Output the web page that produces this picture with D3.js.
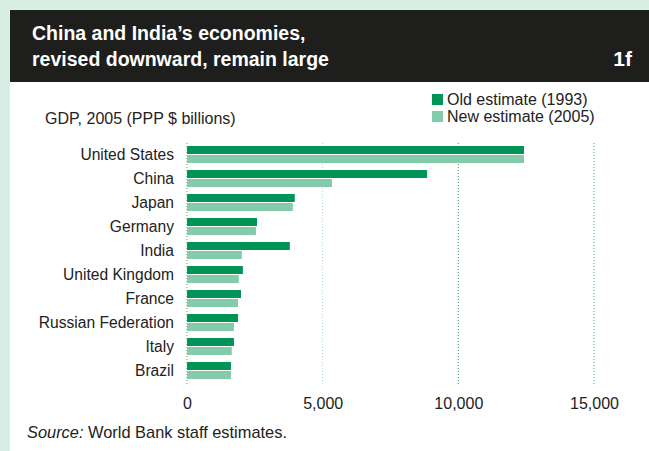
<!DOCTYPE html>
<html>
<head>
<meta charset="utf-8">
<script src="https://cdn.jsdelivr.net/npm/d3@7"></script>
<style>
  html, body { margin: 0; padding: 0; background: #d9eee5; }
  svg { display: block; }
  text { font-family: "Liberation Sans", Arial, sans-serif; }
</style>
</head>
<body>
<svg id="chart" width="649" height="451"></svg>
<script>
// GDP, 2005 (PPP $ billions)
const countries = ["United States", "China", "Japan", "Germany", "India",
  "United Kingdom", "France", "Russian Federation", "Italy", "Brazil"];
const oldEstimate = [12420, 8850, 3970, 2580, 3790, 2060, 1990, 1880, 1730, 1620];
const newEstimate = [12420, 5340, 3900, 2540, 2020, 1910, 1880, 1730, 1650, 1620];
const seriesNames = ["Old estimate (1993)", "New estimate (2005)"];
const xTicks = [0, 5000, 10000, 15000];

const colors = ["#009456", "#83cbaa"];
const fs = 16;

const svg = d3.select("#chart");

// card background and header
svg.append("rect").attr("x", 10).attr("y", 10).attr("width", 639).attr("height", 441).attr("fill", "#ffffff");
svg.append("rect").attr("x", 10).attr("y", 10).attr("width", 639).attr("height", 72).attr("fill", "#1e1e1c");

const titleFont = '"Liberation Sans Narrow", "Arial Narrow", sans-serif';
svg.append("text").attr("x", 32).attr("y", 40)
  .attr("fill", "#fff").attr("font-weight", "bold").attr("font-size", 19.5)
  .style("font-family", titleFont)
  .text("China and India’s economies,");
svg.append("text").attr("x", 32).attr("y", 66)
  .attr("fill", "#fff").attr("font-weight", "bold").attr("font-size", 19.5)
  .style("font-family", titleFont)
  .text("revised downward, remain large");
svg.append("text").attr("x", 632).attr("y", 66).attr("text-anchor", "end")
  .attr("fill", "#fff").attr("font-weight", "bold").attr("font-size", 21)
  .style("font-family", titleFont)
  .text("1f");

// axis title
svg.append("text").attr("x", 45).attr("y", 124)
  .attr("font-size", fs).attr("fill", "#222")
  .text("GDP, 2005 (PPP $ billions)");

// legend
const legend = svg.append("g");
seriesNames.forEach((name, i) => {
  const g = legend.append("g").attr("transform", `translate(432, ${94 + i * 17})`);
  g.append("rect").attr("width", 11).attr("height", 11).attr("fill", colors[i]);
  g.append("text").attr("x", 15).attr("y", 11).attr("font-size", fs).attr("fill", "#222").text(name);
});

// scales
const x = d3.scaleLinear().domain([0, 15000]).range([187, 594]);
const y = d3.scaleBand().domain(countries).range([142.5, 382.5])
  .paddingInner(7 / 24).paddingOuter(7 / 48);
const ySub = d3.scaleBand().domain([0, 1]).range([0, y.bandwidth()]).paddingInner(1 / 9);

// dotted gridlines
svg.append("g").selectAll("line").data(xTicks).join("line")
  .attr("x1", d => x(d)).attr("x2", d => x(d))
  .attr("y1", 143).attr("y2", 384)
  .attr("stroke", (d, i) => i === 1 ? "#a9d9c2" : "#3aa877")
  .attr("stroke-width", 1)
  .attr("stroke-dasharray", "1,2");

// bars
const rows = svg.append("g").selectAll("g").data(countries).join("g")
  .attr("transform", d => `translate(0, ${y(d)})`);
rows.each(function (c, i) {
  const vals = [oldEstimate[i], newEstimate[i]];
  d3.select(this).selectAll("rect").data(vals).join("rect")
    .attr("x", x(0))
    .attr("y", (v, j) => ySub(j))
    .attr("width", v => x(v) - x(0))
    .attr("height", ySub.bandwidth())
    .attr("fill", (v, j) => colors[j]);
});

// category labels
const yAxis = d3.axisLeft(y).tickSize(0).tickPadding(0);
const yg = svg.append("g").attr("transform", "translate(174, 0)").call(yAxis);
yg.select(".domain").remove();
yg.selectAll("text").attr("font-size", 15.6).attr("fill", "#222")
  .style("font-family", '"Liberation Sans", Arial, sans-serif');

// x axis labels
const xAxis = d3.axisBottom(x).tickValues(xTicks).tickSize(0).tickPadding(0)
  .tickFormat(d3.format(","));
const xg = svg.append("g").attr("transform", "translate(0, 398)").call(xAxis);
xg.select(".domain").remove();
xg.selectAll("text").attr("font-size", fs).attr("fill", "#222")
  .style("font-family", '"Liberation Sans", Arial, sans-serif');

// source note
const src = svg.append("text").attr("x", 27).attr("y", 438).attr("font-size", 16.4).attr("fill", "#222");
src.append("tspan").attr("font-style", "italic").text("Source:");
src.append("tspan").text(" World Bank staff estimates.");
</script>
</body>
</html>
